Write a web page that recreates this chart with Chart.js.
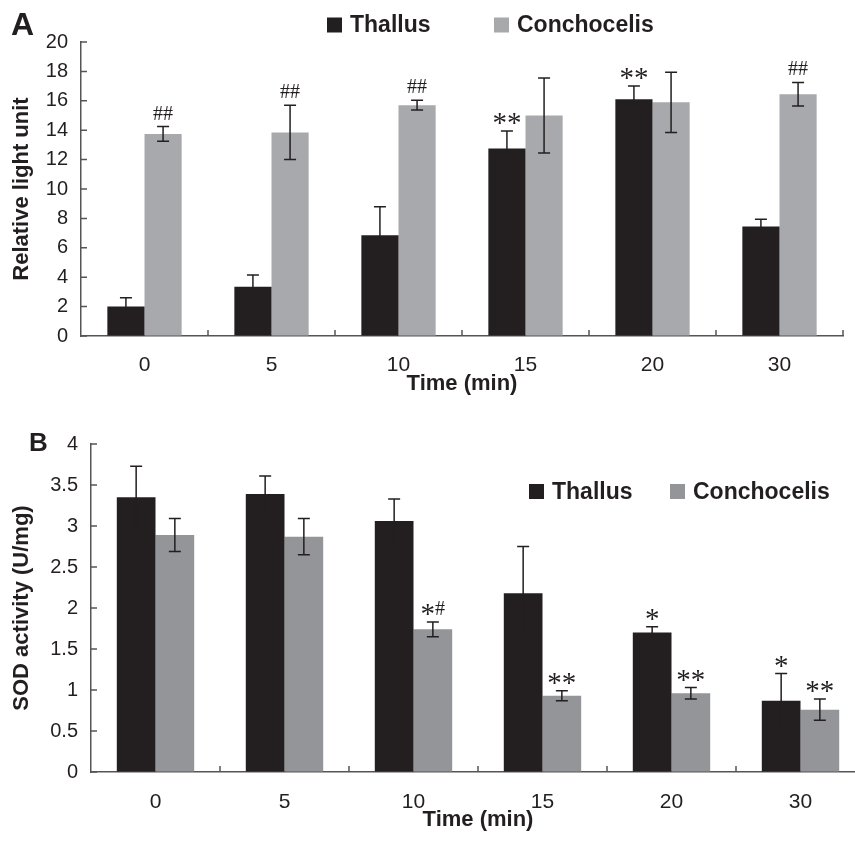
<!DOCTYPE html>
<html>
<head>
<meta charset="utf-8">
<script src="https://cdn.jsdelivr.net/npm/chart.js@4.4.1/dist/chart.umd.min.js"></script>
<style>
  html, body { margin: 0; padding: 0; background: #fff; }
  #wrap { position: relative; width: 855px; height: 841px; overflow: hidden; }
  #chartA { position: absolute; left: 0; top: 0; }
  #chartB { position: absolute; left: 0; top: 400px; }
</style>
</head>
<body>
<div id="wrap">
  <canvas id="chartA" width="855" height="397"></canvas>
  <canvas id="chartB" width="870" height="441"></canvas>
</div>
<script>
// categories (time, min)
const times = ['0', '5', '10', '15', '20', '30'];

// Panel A: relative light unit
const thallusA = [2.0, 3.35, 6.85, 12.75, 16.1, 7.45];
const thallusAErr = [0.6, 0.8, 1.95, 1.2, 0.9, 0.5];
const conchA = [13.75, 13.85, 15.7, 15.0, 15.9, 16.45];
const conchAErr = [0.5, 1.85, 0.33, 2.55, 2.05, 0.8];
const thallusAMarks = ['', '', '', '**', '**', ''];
const conchAMarks = ['##', '##', '##', '', '', '##'];

// Panel B: SOD activity (U/mg)
const thallusB = [3.35, 3.39, 3.06, 2.18, 1.70, 0.87];
const thallusBErr = [0.38, 0.22, 0.27, 0.57, 0.07, 0.33];
const conchB = [2.89, 2.87, 1.74, 0.93, 0.96, 0.76];
const conchBErr = [0.2, 0.22, 0.09, 0.06, 0.07, 0.13];
const thallusBMarks = ['', '', '', '', '*', '*'];
const conchBMarks = ['', '', '*#', '**', '**', '**'];

const INK = '#231f20';
const SANS = "'Liberation Sans', Arial, sans-serif";
const SERIF = "'Liberation Serif', 'Times New Roman', serif";

// error bars + significance marks
function errorBarsPlugin(errs, marks) {
  return {
    id: 'errorBars',
    afterDatasetsDraw(chart) {
      const ctx = chart.ctx;
      const y = chart.scales.y;
      ctx.save();
      chart.data.datasets.forEach((ds, d) => {
        chart.getDatasetMeta(d).data.forEach((bar, i) => {
          const v = ds.data[i], e = errs[d][i];
          const yTop = y.getPixelForValue(v + e);
          const yBot = y.getPixelForValue(v - e);
          ctx.strokeStyle = INK;
          ctx.lineWidth = 1.5;
          ctx.beginPath();
          ctx.moveTo(bar.x, yTop); ctx.lineTo(bar.x, yBot);
          ctx.moveTo(bar.x - 6, yTop); ctx.lineTo(bar.x + 6, yTop);
          ctx.moveTo(bar.x - 6, yBot); ctx.lineTo(bar.x + 6, yBot);
          ctx.stroke();
          const m = marks[d][i];
          if (m) {
            ctx.fillStyle = INK;
            ctx.textAlign = 'center';
            ctx.textBaseline = 'alphabetic';
            if (m === '*#') {
              // mixed mark: bigger star, smaller hash
              ctx.font = '29px ' + SERIF;
              const wS = ctx.measureText('*').width;
              const dS = ctx.measureText('*').actualBoundingBoxDescent;
              ctx.font = '20px ' + SERIF;
              const wH = ctx.measureText('#').width;
              const x0 = bar.x - (wS + wH) / 2;
              ctx.textAlign = 'left';
              ctx.fillText('#', x0 + wS, yTop - 7);
              ctx.font = '29px ' + SERIF;
              ctx.fillText('*', x0, yTop - 7 - dS);
            } else {
              ctx.font = m.indexOf('#') >= 0 ? '20px ' + SERIF : '29px ' + SERIF;
              const desc = ctx.measureText(m).actualBoundingBoxDescent;
              ctx.fillText(m, bar.x, yTop - 7 - desc);
            }
          }
        });
      });
      ctx.restore();
    }
  };
}

// inward tick marks like the original figure
const innerTicks = {
  id: 'innerTicks',
  afterDraw(chart) {
    const ctx = chart.ctx;
    const { left, right, bottom } = chart.chartArea;
    const x = chart.scales.x, y = chart.scales.y;
    ctx.save();
    ctx.strokeStyle = '#555';
    ctx.lineWidth = 1.5;
    ctx.beginPath();
    y.ticks.forEach(t => {
      const py = y.getPixelForValue(t.value);
      ctx.moveTo(left, py); ctx.lineTo(left + 6, py);
    });
    const n = x.ticks.length;
    for (let i = 1; i <= n; i++) {
      const px = i < n ? (x.getPixelForValue(i - 1) + x.getPixelForValue(i)) / 2 : right;
      ctx.moveTo(px, bottom); ctx.lineTo(px, bottom - 6);
    }
    ctx.stroke();
    ctx.restore();
  }
};

function legendAndLetter(cfg) {
  return {
    id: 'legendLetter',
    afterDraw(chart) {
      const ctx = chart.ctx;
      ctx.save();
      ctx.fillStyle = INK;
      ctx.font = 'bold ' + cfg.letterSize + 'px ' + SANS;
      ctx.textBaseline = 'alphabetic';
      ctx.textAlign = 'left';
      ctx.fillText(cfg.letter, cfg.letterX, cfg.letterY);
      ctx.font = 'bold 23px ' + SANS;
      ctx.textBaseline = 'middle';
      cfg.items.forEach(it => {
        ctx.fillStyle = it.color;
        ctx.fillRect(it.x, cfg.cy - 7.5, 15, 15);
        ctx.fillStyle = INK;
        ctx.fillText(it.label, it.x + 23, cfg.cy + 1);
      });
      ctx.restore();
    }
  };
}

function makeChart(id, opts) {
  new Chart(document.getElementById(id).getContext('2d'), {
    type: 'bar',
    data: {
      labels: times,
      datasets: [
        { label: 'Thallus', data: opts.thallus, backgroundColor: INK },
        { label: 'Conchocelis', data: opts.conch, backgroundColor: opts.conchColor }
      ]
    },
    options: {
      responsive: false,
      animation: false,
      layout: { padding: opts.padding },
      datasets: { bar: { categoryPercentage: opts.catPct, barPercentage: 1.0 } },
      plugins: { legend: { display: false }, tooltip: { enabled: false } },
      scales: {
        x: {
          grid: { display: true, drawOnChartArea: false, drawTicks: false },
          border: { display: true, color: '#555', width: 1.5 },
          ticks: { color: INK, padding: opts.xPad, font: { family: SANS, size: 21 } },
          title: { display: true, text: 'Time (min)', color: INK, padding: 0,
                   font: { family: SANS, size: 22, weight: 'bold' } },
          afterFit: s => { s.height = 61; }
        },
        y: {
          min: 0, max: opts.max,
          grid: { display: true, drawOnChartArea: false, drawTicks: false },
          border: { display: true, color: '#555', width: 1.5 },
          ticks: { stepSize: opts.step, color: INK, padding: 13,
                   font: { family: SANS, size: 20 }, callback: v => String(v) },
          title: { display: true, text: opts.yTitle, color: INK, padding: { top: 9, bottom: 0 },
                   font: { family: SANS, size: 22, weight: 'bold' } },
          afterFit: s => { s.width = opts.yWidth; }
        }
      }
    },
    plugins: [errorBarsPlugin(opts.errs, opts.marks), innerTicks, legendAndLetter(opts.legend)]
  });
}

makeChart('chartA', {
  thallus: thallusA, conch: conchA, conchColor: '#a7a9ac',
  errs: [thallusAErr, conchAErr], marks: [thallusAMarks, conchAMarks],
  max: 20, step: 2, yTitle: 'Relative light unit', yWidth: 81,
  padding: { top: 42, right: 12, bottom: 0, left: 0 }, catPct: 0.585, xPad: 17,
  legend: { letter: 'A', letterSize: 32, letterX: 11, letterY: 35, cy: 25,
            items: [{ label: 'Thallus', color: INK, x: 327 }, { label: 'Conchocelis', color: '#a7a9ac', x: 494 }] }
});

makeChart('chartB', {
  thallus: thallusB, conch: conchB, conchColor: '#939598',
  errs: [thallusBErr, conchBErr], marks: [thallusBMarks, conchBMarks],
  max: 4, step: 0.5, yTitle: 'SOD activity (U/mg)', yWidth: 91,
  padding: { top: 44, right: 5, bottom: 8, left: 0 }, catPct: 0.6, xPad: 18,
  legend: { letter: 'B', letterSize: 26, letterX: 29, letterY: 51, cy: 91.5,
            items: [{ label: 'Thallus', color: INK, x: 529 }, { label: 'Conchocelis', color: '#939598', x: 670 }] }
});
</script>
</body>
</html>
